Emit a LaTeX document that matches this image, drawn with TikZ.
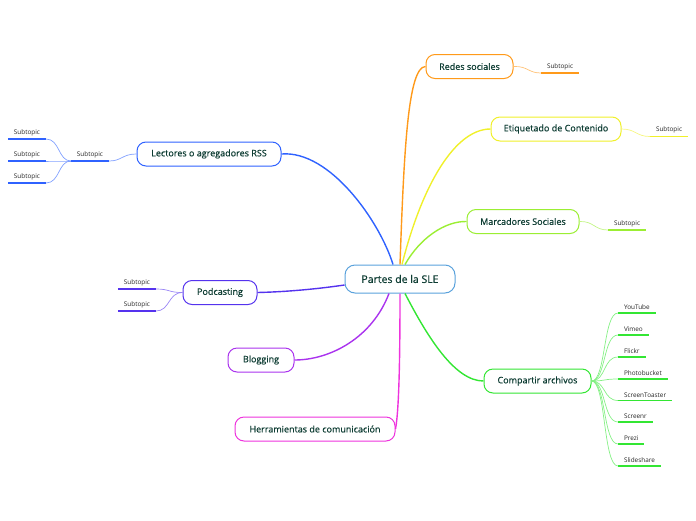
\documentclass[tikz,border=0pt]{standalone}
\usepackage{fontspec}
\setmainfont{Open Sans}
\newfontfamily\topicfont[FakeBold=0.5]{Open Sans}
\definecolor{tx}{HTML}{0E3D33}
\definecolor{cC}{HTML}{5AA2DC}
\definecolor{cRss}{HTML}{2F62FF}
\definecolor{cRed}{HTML}{FF9A1A}
\definecolor{cEti}{HTML}{F0F02A}
\definecolor{cMar}{HTML}{9BEE33}
\definecolor{cCom}{HTML}{33E633}
\definecolor{cPod}{HTML}{5533EE}
\definecolor{cBlo}{HTML}{AA33EE}
\definecolor{cHer}{HTML}{EE33DD}
\begin{document}
\begin{tikzpicture}[x=1pt,y=-1pt,
  topic/.style={draw=#1, line width=1pt, rounded corners=9pt, fill=white, text=tx,
    font=\topicfont\fontsize{9}{11}\selectfont, minimum height=24pt, inner sep=0pt},
  central/.style={draw=cC, line width=1pt, rounded corners=10pt, fill=white, text=tx,
    font=\topicfont\fontsize{10.5}{12}\selectfont, minimum height=28pt, minimum width=110pt, inner sep=0pt},
  subt/.style={text=black!85, font=\fontsize{6.4}{7.5}\selectfont, inner xsep=5.8pt, inner ysep=3pt},
  uline/.style={draw=#1, line width=1.6pt},
  conn/.style={draw=#1, line width=1.4pt},
  sconn/.style={draw=#1!60, line width=0.7pt}
]
\useasboundingbox (0,0) rectangle (696,520);

% central
\node[central] (c) at (400,279) {Partes de la SLE};

% main topics
\node[topic=cRss, minimum width=144pt] (rss) at (209,154) {Lectores o agregadores RSS};
\node[topic=cRed, minimum width=87pt] (red) at (469.5,66.5) {Redes sociales};
\node[topic=cEti, minimum width=130pt] (eti) at (556,129) {Etiquetado de Contenido};
\node[topic=cMar, minimum width=112pt] (mar) at (523,221.5) {Marcadores Sociales};
\node[topic=cCom, minimum width=107pt] (com) at (537.5,381) {Compartir archivos};
\node[topic=cPod, minimum width=74pt] (pod) at (220,292.5) {Podcasting};
\node[topic=cBlo, minimum width=66pt] (blo) at (261,360) {Blogging};
\node[topic=cHer, minimum width=160pt] (her) at (315,429) {Herramientas de comunicación};

% main connectors
\draw[conn=cRss] ([xshift=-7pt]c.north) .. controls (380,222) and (330,150) .. (rss.east);
\draw[conn=cRed] ([xshift=0pt]c.north) .. controls (404,150) and (408,67) .. (red.west);
\draw[conn=cEti] ([xshift=2pt]c.north) .. controls (422,185) and (455,129) .. (eti.west);
\draw[conn=cMar] ([xshift=5pt]c.north) .. controls (420,238) and (445,221) .. (mar.west);
\draw[conn=cCom] ([xshift=5pt]c.south) .. controls (428,338) and (455,381) .. (com.west);
\draw[conn=cPod] ([yshift=-6pt]c.west) .. controls (310,290) and (280,292) .. (pod.east);
\draw[conn=cBlo] ([xshift=-11pt]c.south) .. controls (372,338) and (330,360) .. (blo.east);
\draw[conn=cHer] ([xshift=0pt]c.south) .. controls (400,360) and (399,410) .. (her.east);

% Redes subtopic
\node[subt, anchor=south west] (red1) at (541,73) {Subtopic};
\draw[uline=cRed] (red1.south west) -- (red1.south east);
\draw[sconn=cRed] (red.east) .. controls (528,66) and (528,73) .. (red1.south west);

% Etiquetado subtopic
\node[subt, anchor=south west] (eti1) at (650,136.5) {Subtopic};
\draw[uline=cEti] (eti1.south west) -- (eti1.south east);
\draw[sconn=cEti] (eti.east) .. controls (636,129) and (636,136.5) .. (eti1.south west);

% Marcadores subtopic
\node[subt, anchor=south west] (mar1) at (608,230) {Subtopic};
\draw[uline=cMar] (mar1.south west) -- (mar1.south east);
\draw[sconn=cMar] (mar.east) .. controls (594,221) and (594,230) .. (mar1.south west);

% Compartir subtopics
\foreach \n/\y/\t in {1/313/YouTube,2/335/Vimeo,3/357/Flickr,4/379/Photobucket,5/400.5/ScreenToaster,6/422/Screenr,7/444/Prezi,8/466/Slideshare}{
  \node[subt, anchor=south west] (com\n) at (618,\y) {\t};
  \draw[uline=cCom] (com\n.south west) -- (com\n.south east);
  \draw[sconn=cCom] (com.east) .. controls (606,381) and (603,\y) .. (com\n.south west);
}

% Lectores subtopics
\node[subt, anchor=south east] (rss0) at (109,161) {Subtopic};
\draw[uline=cRss] (rss0.south west) -- (rss0.south east);
\draw[sconn=cRss] (rss.west) .. controls (122,154) and (122,161) .. (rss0.south east);
\foreach \n/\y in {1/139,2/161,3/183}{
  \node[subt, anchor=south east] (rss\n) at (46,\y) {Subtopic};
  \draw[uline=cRss] (rss\n.south west) -- (rss\n.south east);
  \draw[sconn=cRss] (rss0.south west) .. controls (58,161) and (60,\y) .. (rss\n.south east);
}

% Podcasting subtopics
\foreach \n/\y in {1/289,2/311}{
  \node[subt, anchor=south east] (pod\n) at (156,\y) {Subtopic};
  \draw[uline=cPod] (pod\n.south west) -- (pod\n.south east);
  \draw[sconn=cPod] (pod.west) .. controls (168,292.5) and (170,\y) .. (pod\n.south east);
}
\end{tikzpicture}
\end{document}
